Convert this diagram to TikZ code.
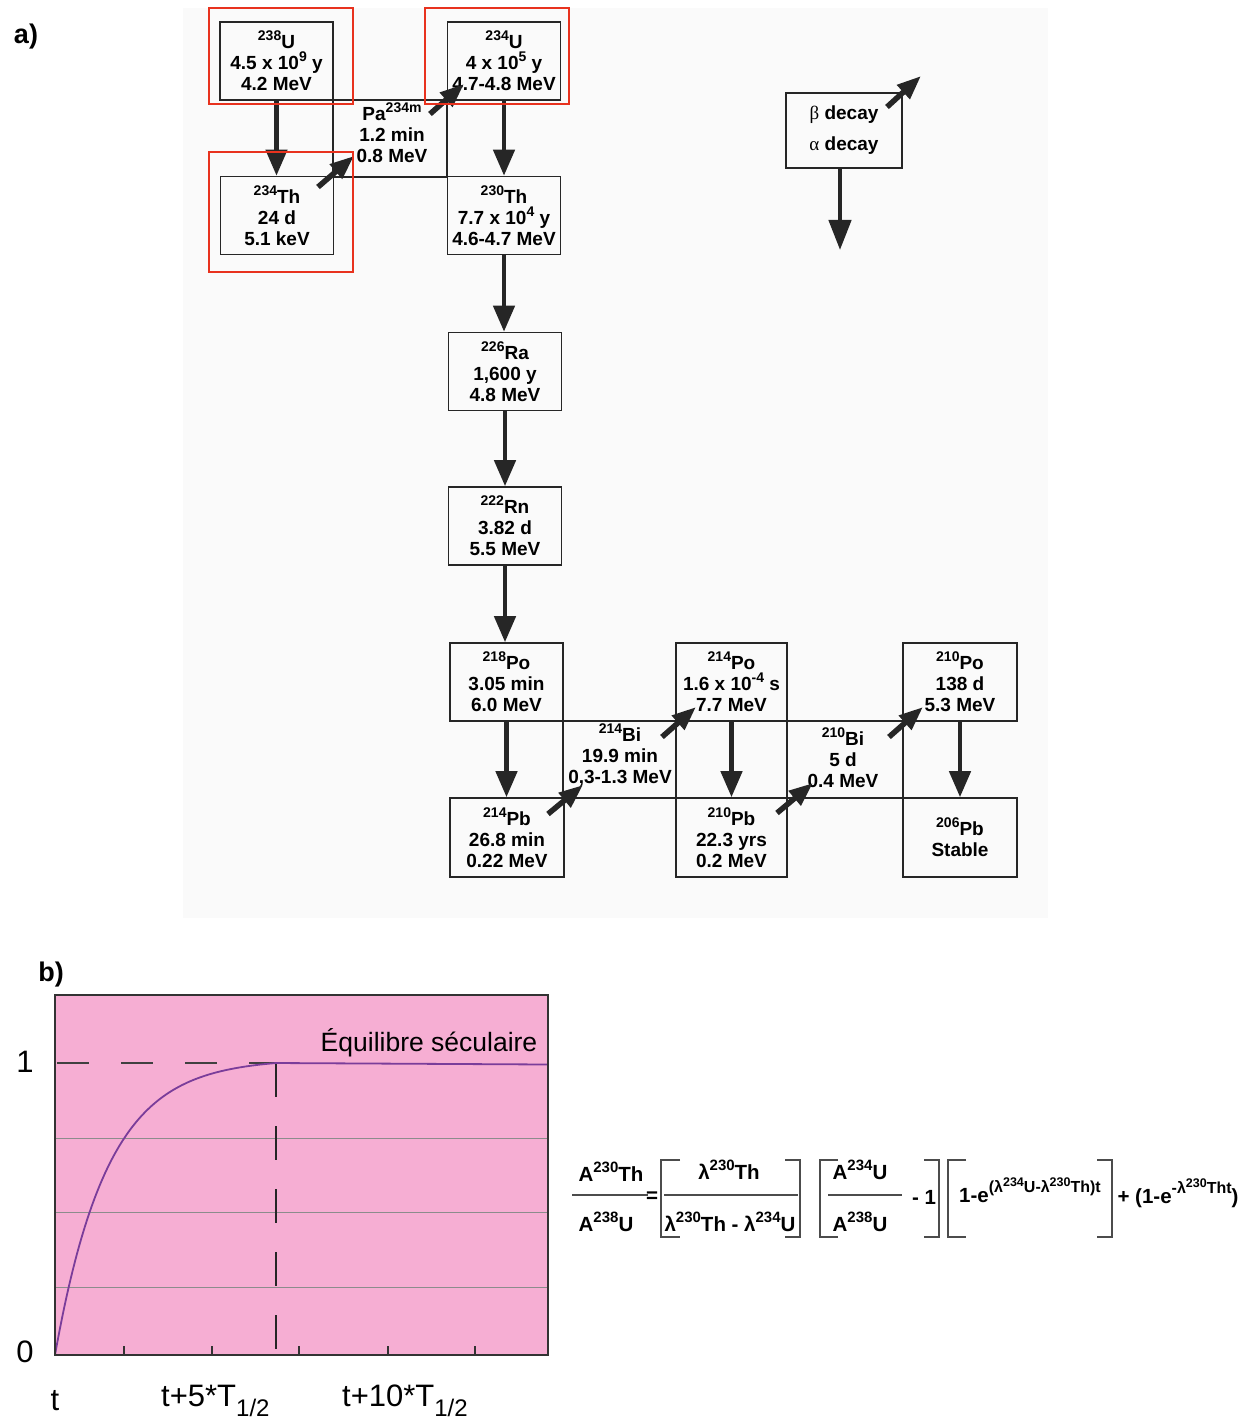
\documentclass[tikz,border=0pt]{standalone}
\usepackage{fontspec}
\setmainfont{Liberation Sans}
\newfontfamily\grk{Liberation Serif}
\usetikzlibrary{arrows.meta}
\definecolor{redbox}{HTML}{E8321E}
\definecolor{pinkbg}{HTML}{F6AED3}
\definecolor{curvecol}{HTML}{7A3D9A}
\newcommand\sps[1]{\raisebox{0.42em}{\fontsize{14}{14}\selectfont #1}}
\newcommand\fsp[1]{\raisebox{0.42em}{\fontsize{15}{15}\selectfont #1}}
\newcommand\spf[1]{\raisebox{0.45em}{\fontsize{16}{16}\selectfont #1}}
\newcommand\spff[1]{\raisebox{0.4em}{\fontsize{12.5}{12.5}\selectfont #1}}
\newcommand\dfont{\fontsize{19}{21}\selectfont\bfseries}
\begin{document}
\begin{tikzpicture}[x=1pt,y=-1pt,
  box/.style={draw=black!85, line width=1.6pt, minimum width=113pt, minimum height=78pt, inner sep=0pt, align=center, font=\dfont},
  txt/.style={inner sep=0pt, align=center, font=\dfont},
  cellline/.style={draw=black!85, line width=1.6pt},
  alpha/.style={line width=4.5pt, draw=black!85, -{Triangle[length=26pt,width=21pt]}},
  beta/.style={line width=5.5pt, draw=black!85, -{Triangle[length=24pt,width=18pt]}},
  redframe/.style={draw=redbox, line width=1.8pt},
  lbl/.style={inner sep=0pt, font=\fontsize{27}{27}\selectfont\bfseries},
  axlbl/.style={inner sep=0pt, font=\fontsize{31}{31}\selectfont},
  fml/.style={inner sep=0pt, font=\fontsize{20.5}{20.5}\selectfont\bfseries},
  brk/.style={draw=black!70, line width=1.3pt},
  fbar/.style={draw=black!70, line width=1.3pt}
]
\useasboundingbox (0,0) rectangle (1251,1423);
\fill[white] (0,0) rectangle (1251,1423);
% scanned area
\fill[black!2] (183,8) rectangle (1048,918);

\node[lbl] (la) at (26,37) {a)};

% cells
\draw[cellline] (333,100) rectangle (447,177);
\draw[cellline] (563,721) rectangle (676,798);
\draw[cellline] (787,721) rectangle (903,798);

% boxes
\node[box] (u238) at (276.5,61) {\sps{238}U\\4.5 x 10\sps{9} y\\4.2 MeV};
\node[box] (th234) at (277,215.5) {\sps{234}Th\\24 d\\5.1 keV};
\node[box] (u234) at (504,61) {\sps{234}U\\4 x 10\sps{5} y\\4.7-4.8 MeV};
\node[box] (th230) at (504,215.5) {\sps{230}Th\\7.7 x 10\sps{4} y\\4.6-4.7 MeV};
\node[box] (ra226) at (505,371.5) {\sps{226}Ra\\1,600 y\\4.8 MeV};
\node[box] (rn222) at (505,526) {\sps{222}Rn\\3.82 d\\5.5 MeV};
\node[box] (po218) at (506.5,682) {\sps{218}Po\\3.05 min\\6.0 MeV};
\node[box, minimum width=111pt] (po214) at (731.5,682) {\sps{214}Po\\1.6 x 10\sps{-4} s\\7.7 MeV};
\node[box, minimum width=114pt] (po210) at (960,682) {\sps{210}Po\\138 d\\5.3 MeV};
\node[box, minimum width=114pt, minimum height=79pt] (pb214) at (507,837.5) {\sps{214}Pb\\26.8 min\\0.22 MeV};
\node[box, minimum width=111pt, minimum height=79pt] (pb210) at (731.5,837.5) {\sps{210}Pb\\22.3 yrs\\0.2 MeV};
\node[box, minimum width=114pt, minimum height=79pt] (pb206) at (960,837.5) {\sps{206}Pb\\Stable};

% intermediate texts
\node[txt] (pa) at (392,133) {Pa\sps{234m}\\1.2 min\\0.8 MeV};
\node[txt] (bi214) at (620,755) {\sps{214}Bi\\19.9 min\\0,3-1.3 MeV};
\node[txt] (bi210) at (843,758) {\sps{210}Bi\\5 d\\0.4 MeV};

% legend
\node[draw=black!85, line width=1.6pt, minimum width=116pt, minimum height=75pt, inner sep=0pt, align=center, font=\fontsize{19}{21}\selectfont\bfseries] (legend) at (844,130.5) {{\grk\mdseries β} decay\\[10pt]{\grk\mdseries α} decay};
\coordinate (legA) at (840,250);
\coordinate (legB0) at (887,107);
\coordinate (legB1) at (921,76);
\draw[alpha, -{Triangle[length=30pt,width=22pt]}] (840,168) -- (legA);
\draw[beta] (legB0) -- (legB1);

% alpha decays
\draw[alpha] (u238.south) -- (th234.north -| u238.south);
\draw[alpha] (u234.south) -- (th230.north -| u234.south);
\draw[alpha] (th230.south) -- (ra226.north -| th230.south);
\draw[alpha] (ra226.south) -- (rn222.north);
\draw[alpha] (rn222.south) -- (po218.north -| rn222.south);
\draw[alpha] (po218.south) -- (pb214.north -| po218.south);
\draw[alpha] (po214.south) -- (pb210.north);
\draw[alpha] (po210.south) -- (pb206.north);

% beta decays
\coordinate (b1s) at (318,187); \coordinate (b1e) at (354,156);
\coordinate (b2s) at (430,114); \coordinate (b2e) at (464,84);
\coordinate (b3s) at (548,814); \coordinate (b3e) at (583,785);
\coordinate (b4s) at (662,737); \coordinate (b4e) at (696,707);
\coordinate (b5s) at (777,813); \coordinate (b5e) at (813,783);
\coordinate (b6s) at (889,737); \coordinate (b6e) at (923,707);
\draw[beta] (b1s) -- (b1e);
\draw[beta] (b2s) -- (b2e);
\draw[beta] (b3s) -- (b3e);
\draw[beta] (b4s) -- (b4e);
\draw[beta] (b5s) -- (b5e);
\draw[beta] (b6s) -- (b6e);

% red frames
\draw[redframe] (209,8) rectangle (353,104);
\draw[redframe] (425,8) rectangle (569,104);
\draw[redframe] (209,152) rectangle (353,272);

% ---------- part b
\node[lbl] (lb) at (51,975) {b)};
\fill[pinkbg] (55,995) rectangle (548,1355);
\foreach \yy in {1138,1212,1287} \draw[black!45, line width=0.9pt] (55,\yy) -- (548,\yy);
\draw[black!75, line width=1.3pt, dash pattern=on 32pt off 32pt] (57,1063) -- (276,1063);
\draw[black!85, line width=1.3pt, dash pattern=on 34pt off 29pt] (276,1063) -- (276,1355);
\draw[curvecol, line width=1.8pt] plot[domain=0:221, samples=90] ({55+\x},{1355-292*(1-exp(-0.019*\x))/0.985}) -- (548,1064.5);
\draw[black!80, line width=1.8pt] (55,995) rectangle (548,1355);
\foreach \xx in {124,212,299,388,475} \draw[black!80, line width=1.5pt] (\xx,1355) -- (\xx,1346);
\node[axlbl] (y1) at (25,1062) {1};
\node[axlbl] (y0) at (25,1352) {0};
\node[axlbl] (x0) at (55,1401) {t};
\node[axlbl, anchor=west] (x5) at (161,1401) {t+5*T\raisebox{-0.32em}{\fontsize{24}{24}\selectfont 1/2}};
\node[axlbl, anchor=west] (x10) at (342,1401) {t+10*T\raisebox{-0.32em}{\fontsize{24}{24}\selectfont 1/2}};
\node[inner sep=0pt, font=\fontsize{26.5}{26.5}\selectfont] (eqsec) at (429,1043) {Équilibre séculaire};

% ---------- formula
\node[fml] (fn1) at (611,1172) {A\fsp{230}Th};
\node[fml] (fd1) at (606,1222) {A\fsp{238}U};
\draw[fbar] (572,1195) -- (648,1195);
\node[fml] (feq) at (652,1197) {=};
\draw[brk] (680,1160) -- (661,1160) -- (661,1237) -- (680,1237);
\draw[brk] (785,1160) -- (800,1160) -- (800,1237) -- (785,1237);
\node[fml] (fn2) at (729,1170) {λ\fsp{230}Th};
\draw[fbar] (664,1195) -- (798,1195);
\node[fml] (fd2) at (730,1222) {λ\fsp{230}Th - λ\fsp{234}U};
\draw[brk] (838,1160) -- (820,1160) -- (820,1237) -- (838,1237);
\draw[brk] (924,1160) -- (939,1160) -- (939,1237) -- (924,1237);
\node[fml] (fn3) at (860,1170) {A\fsp{234}U};
\draw[fbar] (828,1195) -- (902,1195);
\node[fml] (fd3) at (860,1222) {A\fsp{238}U};
\node[fml] (fm1) at (924,1197) {- 1};
\draw[brk] (966,1160) -- (948,1160) -- (948,1237) -- (966,1237);
\draw[brk] (1097,1160) -- (1112,1160) -- (1112,1237) -- (1097,1237);
\node[fml] (fe1) at (1030,1190) {1-e\spf{(λ\spff{234}U-λ\spff{230}Th)t}};
\node[fml] (fe2) at (1178,1193) {+ (1-e\spf{-λ\spff{230}Tht})};
\end{tikzpicture}
\end{document}
